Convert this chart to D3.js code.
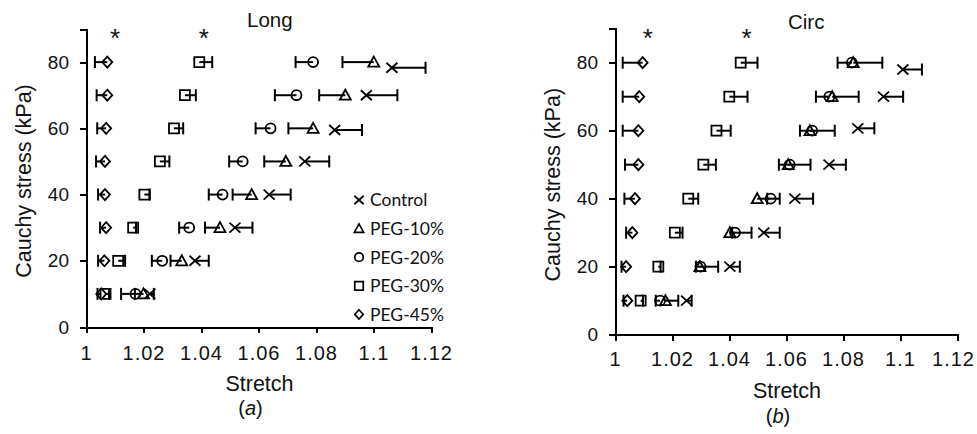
<!DOCTYPE html>
<html lang="en">
    <head>
        <meta charset="utf-8">
        <title>Long / Circ stretch vs Cauchy stress</title>
        <script type="text/javascript" src="https://cdn.jsdelivr.net/npm/d3@7"></script>
        <style type="text/css">
            body { margin: 0; background: #fff; }
            .axis path,
            .axis line {
                fill: none;
                stroke: #000;
                stroke-width: 2px;
                shape-rendering: crispEdges;
            }
            .axis text {
                font-family: "Liberation Sans", Arial, sans-serif;
                font-size: 19px;
                fill: #111;
            }
            .x.axis text {
                font-size: 20px;
                letter-spacing: 1px;
            }
            .title {
                font-family: "Liberation Sans", Arial, sans-serif;
                font-size: 21.5px;
                fill: #111;
            }
            .legend text {
                font-family: Lato, "Noto Sans", sans-serif;
                font-size: 17.5px;
                fill: #111;
            }
        </style>
    </head>
    <body>
        <script type="text/javascript">

            // Stress levels (kPa), one row per level
            var stressLevels = [10, 20, 30, 40, 50, 60, 70, 80];
            var seriesNames = ["Control", "PEG-10%", "PEG-20%", "PEG-30%", "PEG-45%"];
            var xTicks = [1, 1.02, 1.04, 1.06, 1.08, 1.1, 1.12];
            var yTicks = [0, 20, 40, 60, 80];

            // Panel (a) Long
            var longControlStress  = [10, 20, 30, 40, 50, 59.5, 70, 78.3];
            var longControlStretch = [1.0222, 1.0379, 1.0518, 1.0637, 1.0761, 1.0865, 1.0975, 1.1064];
            var longControlErr     = [0.0014, 0.0048, 0.0061, 0.0075, 0.0085, 0.0095, 0.0108, 0.0117];
            var longPeg10Stretch   = [1.0200, 1.0333, 1.0466, 1.0576, 1.0695, 1.0790, 1.0902, 1.1001];
            var longPeg10Err       = [0.0030, 0.0039, 0.0052, 0.0066, 0.0075, 0.0086, 0.0091, 0.0109];
            var longPeg20Stretch   = [1.0172, 1.0265, 1.0359, 1.0475, 1.0545, 1.0642, 1.0732, 1.0790];
            var longPeg20Err       = [0.0050, 0.0036, 0.0035, 0.0048, 0.0047, 0.0052, 0.0075, 0.0061];
            var longPeg30Stretch   = [1.0068, 1.0112, 1.0164, 1.0203, 1.0257, 1.0306, 1.0344, 1.0394];
            var longPeg30Err       = [0.0012, 0.0024, 0.0010, 0.0019, 0.0033, 0.0032, 0.0038, 0.0045];
            var longPeg45Stretch   = [1.0053, 1.0064, 1.0070, 1.0066, 1.0066, 1.0070, 1.0074, 1.0074];
            var longPeg45Err       = [0.0013, 0.0022, 0.0021, 0.0024, 0.0031, 0.0031, 0.0037, 0.0043];

            // Panel (b) Circ
            var circControlStress  = [10, 20, 30, 40, 50, 60.7, 70, 78];
            var circControlStretch = [1.0251, 1.0403, 1.0522, 1.0631, 1.0751, 1.0852, 1.0942, 1.1010];
            var circControlErr     = [0.0018, 0.0035, 0.0056, 0.0064, 0.0059, 0.0058, 0.0069, 0.0067];
            var circPeg10Stretch   = [1.0177, 1.0298, 1.0403, 1.0499, 1.0608, 1.0684, 1.0762, 1.0836];
            var circPeg10Err       = [0.0045, 0.0064, 0.0076, 0.0079, 0.0078, 0.0087, 0.0093, 0.0102];
            var circPeg20Stretch   = [1.0158, 1.0300, 1.0421, 1.0546, 1.0613, 1.0692, 1.0752, 1.0831];
            var circPeg20Err       = [0.0015, 0.0016, 0.0010, 0.0012, 0.0038, 0.0043, 0.0047, 0.0050];
            var circPeg30Stretch   = [1.0090, 1.0152, 1.0210, 1.0257, 1.0310, 1.0356, 1.0401, 1.0441];
            var circPeg30Err       = [0.0008, 0.0008, 0.0027, 0.0035, 0.0044, 0.0050, 0.0064, 0.0059];
            var circPeg45Stretch   = [1.0043, 1.0039, 1.0061, 1.0070, 1.0082, 1.0082, 1.0085, 1.0097];
            var circPeg45Err       = [0.0013, 0.0016, 0.0022, 0.0037, 0.0047, 0.0055, 0.0058, 0.0070];

            // significance stars (stretch position)
            var longStars = [1.0101, 1.0410];
            var circStars = [1.0115, 1.0462];

            var w = 977;
            var h = 434;

            var svg = d3.select("body")
                        .append("svg")
                        .attr("width", w)
                        .attr("height", h);

            svg.append("rect")
               .attr("width", w)
               .attr("height", h)
               .attr("fill", "#fff");

            // marker shapes
            function markerPath(shape) {
                if (shape == "x") return "M-5.5,-5L5.5,5M-5.5,5L5.5,-5";
                if (shape == "triangle") return "M0,-5.5L5.5,4.5L-5.5,4.5Z";
                if (shape == "circle") return "M5,0A5,5 0 1,1 -5,0A5,5 0 1,1 5,0Z";
                if (shape == "square") return "M-5,-5H5V5H-5Z";
                return "M0,-5.5L5,0L0,5.5L-5,0Z";
            }
            var shapes = ["x", "triangle", "circle", "square", "diamond"];

            function makeSeries(stressArr, stretchArr, errArr, dir) {
                return stretchArr.map(function(d, i) {
                    return {x: d, y: stressArr[i], e: errArr[i] * dir};
                });
            }

            var panels = [
                {
                    title: "Long", label: "a",
                    left: 86, right: 431, top: 29, bottom: 327,
                    titleX: 247, titleY: 27, yTitleX: 23, stretchY: 391, tagY: 415, padX: 13,
                    stars: longStars, legend: true, lastShift: 0,
                    series: [
                        makeSeries(longControlStress, longControlStretch, longControlErr, 1),
                        makeSeries(stressLevels, longPeg10Stretch, longPeg10Err, -1),
                        makeSeries(stressLevels, longPeg20Stretch, longPeg20Err, -1),
                        makeSeries(stressLevels, longPeg30Stretch, longPeg30Err, 1),
                        makeSeries(stressLevels, longPeg45Stretch, longPeg45Err, -1)
                    ]
                },
                {
                    title: "Circ", label: "b",
                    left: 615, right: 957, top: 28.7, bottom: 334.7,
                    titleX: 788, titleY: 29, yTitleX: 552, stretchY: 398, tagY: 423, padX: 11,
                    stars: circStars, legend: false, lastShift: -4,
                    series: [
                        makeSeries(circControlStress, circControlStretch, circControlErr, 1),
                        makeSeries(stressLevels, circPeg10Stretch, circPeg10Err, 1),
                        makeSeries(stressLevels, circPeg20Stretch, circPeg20Err, -1),
                        makeSeries(stressLevels, circPeg30Stretch, circPeg30Err, 1),
                        makeSeries(stressLevels, circPeg45Stretch, circPeg45Err, -1)
                    ]
                }
            ];

            panels.forEach(function(p) {
                var xScale = d3.scaleLinear()
                               .domain([1, 1.12])
                               .range([p.left, p.right]);
                var yScale = d3.scaleLinear()
                               .domain([0, 90])
                               .range([p.bottom, p.top]);

                var xAxis = d3.axisBottom(xScale)
                              .tickValues(xTicks)
                              .tickFormat(d3.format(""))
                              .tickSizeOuter(0)
                              .tickSize(6)
                              .tickPadding(p.padX);
                var yAxis = d3.axisLeft(yScale)
                              .tickValues(yTicks)
                              .tickSizeOuter(0)
                              .tickSize(6)
                              .tickPadding(11);

                var gx = svg.append("g")
                            .attr("class", "x axis")
                            .attr("transform", "translate(0," + p.bottom + ")")
                            .call(xAxis);
                // keep the last label inside the window
                gx.selectAll(".tick text")
                  .filter(function(d) { return d == 1.12; })
                  .attr("dx", p.lastShift);

                svg.append("g")
                   .attr("class", "y axis")
                   .attr("transform", "translate(" + p.left + ",0)")
                   .call(yAxis);

                // error bars, then markers
                p.series.forEach(function(data, si) {
                    var g = svg.append("g");
                    var bars = g.selectAll("g.err")
                                .data(data)
                                .enter()
                                .append("g")
                                .attr("class", "err")
                                .attr("stroke", "#000")
                                .attr("stroke-width", 2);
                    bars.append("line")
                        .attr("x1", function(d) { return xScale(d.x); })
                        .attr("x2", function(d) { return xScale(d.x + d.e); })
                        .attr("y1", function(d) { return yScale(d.y); })
                        .attr("y2", function(d) { return yScale(d.y); });
                    bars.append("line")
                        .attr("x1", function(d) { return xScale(d.x + d.e); })
                        .attr("x2", function(d) { return xScale(d.x + d.e); })
                        .attr("y1", function(d) { return yScale(d.y) - 6; })
                        .attr("y2", function(d) { return yScale(d.y) + 6; });

                    g.selectAll("path.mark")
                     .data(data)
                     .enter()
                     .append("path")
                     .attr("class", "mark")
                     .attr("d", markerPath(shapes[si]))
                     .attr("transform", function(d) {
                         return "translate(" + xScale(d.x) + "," + yScale(d.y) + ")";
                     })
                     .attr("fill", "none")
                     .attr("stroke", "#000")
                     .attr("stroke-width", 1.8);
                });

                // stars
                svg.selectAll(null)
                   .data(p.stars)
                   .enter()
                   .append("text")
                   .attr("x", function(d) { return xScale(d); })
                   .attr("y", yScale(89) + 15)
                   .attr("text-anchor", "middle")
                   .attr("font-family", "Liberation Sans, Arial, sans-serif")
                   .attr("font-size", 26)
                   .attr("fill", "#111")
                   .text("*");

                // titles
                svg.append("text")
                   .attr("class", "title")
                   .attr("x", p.titleX)
                   .attr("y", p.titleY)
                   .style("font-size", "20.5px")
                   .text(p.title);

                svg.append("text")
                   .attr("class", "title")
                   .attr("transform", "translate(" + p.yTitleX + "," + ((p.top + p.bottom) / 2 + 3) + ") rotate(-90)")
                   .attr("text-anchor", "middle")
                   .attr("dy", "0.35em")
                   .text("Cauchy stress (kPa)");

                svg.append("text")
                   .attr("class", "title")
                   .attr("x", (p.left + p.right) / 2 + 1)
                   .attr("y", p.stretchY)
                   .attr("text-anchor", "middle")
                   .text("Stretch");

                var tag = svg.append("text")
                             .attr("class", "title")
                             .attr("x", (p.left + p.right) / 2 - 8)
                             .attr("y", p.tagY)
                             .attr("text-anchor", "middle")
                             .style("font-size", "20px");
                tag.append("tspan").text("(");
                tag.append("tspan").style("font-style", "italic").text(p.label);
                tag.append("tspan").text(")");

                if (p.legend) {
                    var lg = svg.append("g")
                                .attr("class", "legend")
                                .selectAll("g")
                                .data(seriesNames)
                                .enter()
                                .append("g")
                                .attr("transform", function(d, i) {
                                    return "translate(359," + (200 + i * 28.6) + ")";
                                });
                    lg.append("path")
                      .attr("d", function(d, i) { return markerPath(shapes[i]); })
                      .attr("transform", "scale(0.85)")
                      .attr("fill", "none")
                      .attr("stroke", "#000")
                      .attr("stroke-width", 2);
                    lg.append("text")
                      .attr("x", 11)
                      .attr("dy", "0.36em")
                      .text(function(d) { return d; });
                }
            });

        </script>
    </body>
</html>
